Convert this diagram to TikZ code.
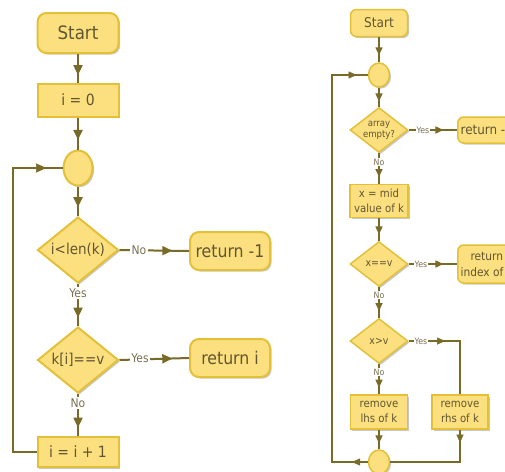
\documentclass[tikz,border=0pt]{standalone}
\usepackage{fontspec}
\setmainfont{DejaVu Sans Condensed}
\usetikzlibrary{shapes.geometric,shadows,decorations.markings,arrows.meta}

\definecolor{boxfill}{RGB}{252,224,128}
\definecolor{boxline}{RGB}{226,192,56}
\definecolor{flowline}{RGB}{122,106,40}
\definecolor{txt}{RGB}{96,86,48}
\definecolor{lbltxt}{RGB}{120,112,80}

\tikzset{
  shapebase/.style={fill=boxfill, draw=boxline, text=txt, inner sep=0pt, align=center,
    drop shadow={shadow xshift=1.6pt, shadow yshift=-1.6pt, fill=black, opacity=0.22}},
  % large chart (left)
  bterm/.style={shapebase, line width=2pt, rectangle, rounded corners=9pt,
    font=\fontsize{18.5}{20}\selectfont},
  bproc/.style={shapebase, line width=2pt, rectangle, font=\fontsize{15.5}{18}\selectfont,
    minimum width=81pt, minimum height=33pt},
  bjoin/.style={shapebase, line width=2pt, ellipse, minimum width=29pt, minimum height=35pt},
  bdec/.style={shapebase, line width=2pt, diamond, minimum width=81pt, minimum height=66pt},
  bdectext/.style={text=txt, inner sep=0pt, font=\fontsize{15}{18}\selectfont},
  bline/.style={draw=flowline, line width=2pt},
  btip/.style={postaction=decorate, decoration={markings,
    mark=at position #1 with {\arrow[flowline]{Triangle[length=10pt,width=9pt]}}}},
  btip/.default=0.75,
  blbl/.style={fill=white, text=lbltxt, inner sep=1.5pt, font=\fontsize{12}{14}\selectfont},
  % small chart (right)
  sterm/.style={shapebase, line width=1.5pt, rectangle, rounded corners=6pt},
  sproc/.style={shapebase, line width=1.5pt, rectangle, font=\fontsize{11.3}{15}\selectfont},
  sjoin/.style={shapebase, line width=1.5pt, ellipse, minimum width=21pt, minimum height=24pt},
  sdec/.style={shapebase, line width=1.5pt, diamond, minimum width=58pt, minimum height=45pt},
  sdectext/.style={text=txt, inner sep=0pt, align=center},
  sline/.style={draw=flowline, line width=1.5pt},
  stip/.style={postaction=decorate, decoration={markings,
    mark=at position #1 with {\arrow[flowline]{Triangle[length=8pt,width=7pt]}}}},
  stip/.default=0.72,
  slbl/.style={fill=white, text=lbltxt, inner sep=1.2pt, font=\fontsize{8.7}{10}\selectfont},
}

\begin{document}
\begin{tikzpicture}[x=1pt,y=-1pt]
\useasboundingbox (0,0) rectangle (505,471);
\clip (0,0) rectangle (505,471);

% ---------- linear search ----------
\node[bterm, minimum width=81pt, minimum height=40pt] (start) at (78,33) {Start};
\node[bproc] (init) at (78,100) {i = 0};
\node[bjoin] (loop) at (78,168) {};
\node[bdec, label={[bdectext]center:i<len(k)}] (cond) at (78,250) {};
\node[bterm, minimum width=80pt, minimum height=38pt, font=\fontsize{17.5}{20}\selectfont] (notfound) at (230,251) {return -1};
\node[bdec, label={[bdectext]center:k[i]==v}] (test) at (78,360) {};
\node[bterm, minimum width=80pt, minimum height=38pt, font=\fontsize{17.5}{20}\selectfont] (found) at (230,358) {return i};
\node[bproc, minimum height=30pt] (incr) at (78,452) {i = i + 1};
\coordinate (back1) at (13,452);
\coordinate (back2) at (13,168);

\draw[bline, btip=0.74] (start.south) -- (init.north);
\draw[bline, btip=0.7] (init.south) -- (loop.north);
\draw[bline, btip=0.7] (loop.south) -- (cond.north);
\draw[bline, btip=0.76] (cond.east) -- (notfound.west);
\draw[bline, btip=0.8] (cond.south) -- (test.north);
\draw[bline, btip=0.76] (test.east) -- (found.west);
\draw[bline, btip=0.8] (test.south) -- (incr.north);
\draw[bline] (incr.west) -- (back1) -- (back2) -- (loop.west);
\path[btip=0.67] (back2) -- (loop.west);

\node[blbl] (lno1) at (139,250) {No};
\node[blbl] (lyes1) at (78,293) {Yes};
\node[blbl] (lyes2) at (140,358) {Yes};
\node[blbl] (lno2) at (78,403) {No};

% ---------- binary search ----------
\node[sterm, minimum width=57pt, minimum height=27pt, font=\fontsize{13.5}{16}\selectfont] (bstart) at (379,23) {Start};
\node[sjoin] (bloop) at (379,75) {};
\node[sdec, label={[sdectext, font=\fontsize{9.5}{11}\selectfont]center:array\\empty?}] (empty) at (379,130) {};
\node[sterm, minimum width=58pt, minimum height=26pt, font=\fontsize{13.3}{16}\selectfont, anchor=west] (bnone) at (457,130) {return -1};
\node[sproc, minimum width=58pt, minimum height=33pt] (mid) at (379,201) {x = mid\\value of k};
\node[sdec, label={[sdectext, font=\fontsize{10.5}{12}\selectfont]center:x==v}] (eq) at (379,264) {};
\node[sterm, minimum width=58pt, minimum height=38pt, font=\fontsize{11.8}{16}\selectfont, anchor=west] (bfound) at (457,264) {return\\index of x};
\node[sdec, label={[sdectext, font=\fontsize{10.5}{12}\selectfont]center:x>v}] (gt) at (379,341) {};
\node[sproc, minimum width=57pt, minimum height=34pt] (lhs) at (379,412) {remove\\lhs of k};
\node[sproc, minimum width=56pt, minimum height=34pt] (rhs) at (460,412) {remove\\rhs of k};
\node[sjoin] (bjoin) at (379,462) {};
\coordinate (turn1) at (rhs.north |- gt.east);
\coordinate (turn2) at (rhs.south |- bjoin.east);
\coordinate (turn3) at (332,462);
\coordinate (turn4) at (332,75);

\draw[sline, stip=0.72] (bstart.south) -- (bloop.north);
\draw[sline, stip=0.72] (bloop.south) -- (empty.north);
\draw[sline, stip=0.72] (empty.east) -- (bnone.west);
\draw[sline, stip=0.78] (empty.south) -- (mid.north);
\draw[sline, stip=0.72] (mid.south) -- (eq.north);
\draw[sline, stip=0.72] (eq.east) -- (bfound.west);
\draw[sline, stip=0.78] (eq.south) -- (gt.north);
\draw[sline, stip=0.78] (gt.south) -- (lhs.north);
\draw[sline, stip=0.7] (lhs.south) -- (bjoin.north);
\draw[sline] (gt.east) -- (turn1) -- (rhs.north);
\path[stip=0.71] (gt.east) -- (turn1);
\draw[sline] (rhs.south) -- (turn2) -- (bjoin.east);
\path[stip=0.4] (rhs.south) -- (turn2);
\draw[sline] (bjoin.west) -- (turn3) -- (turn4) -- (bloop.west);
\path[stip=0.44] (bjoin.west) -- (turn3);
\path[stip=0.69] (turn4) -- (bloop.west);

\node[slbl] (ryes1) at (423,130) {Yes};
\node[slbl] (rno1) at (379,162) {No};
\node[slbl] (ryes2) at (421,264) {Yes};
\node[slbl] (rno2) at (379,295) {No};
\node[slbl] (ryes3) at (421,341) {Yes};
\node[slbl] (rno3) at (379,372) {No};
\end{tikzpicture}
\end{document}
